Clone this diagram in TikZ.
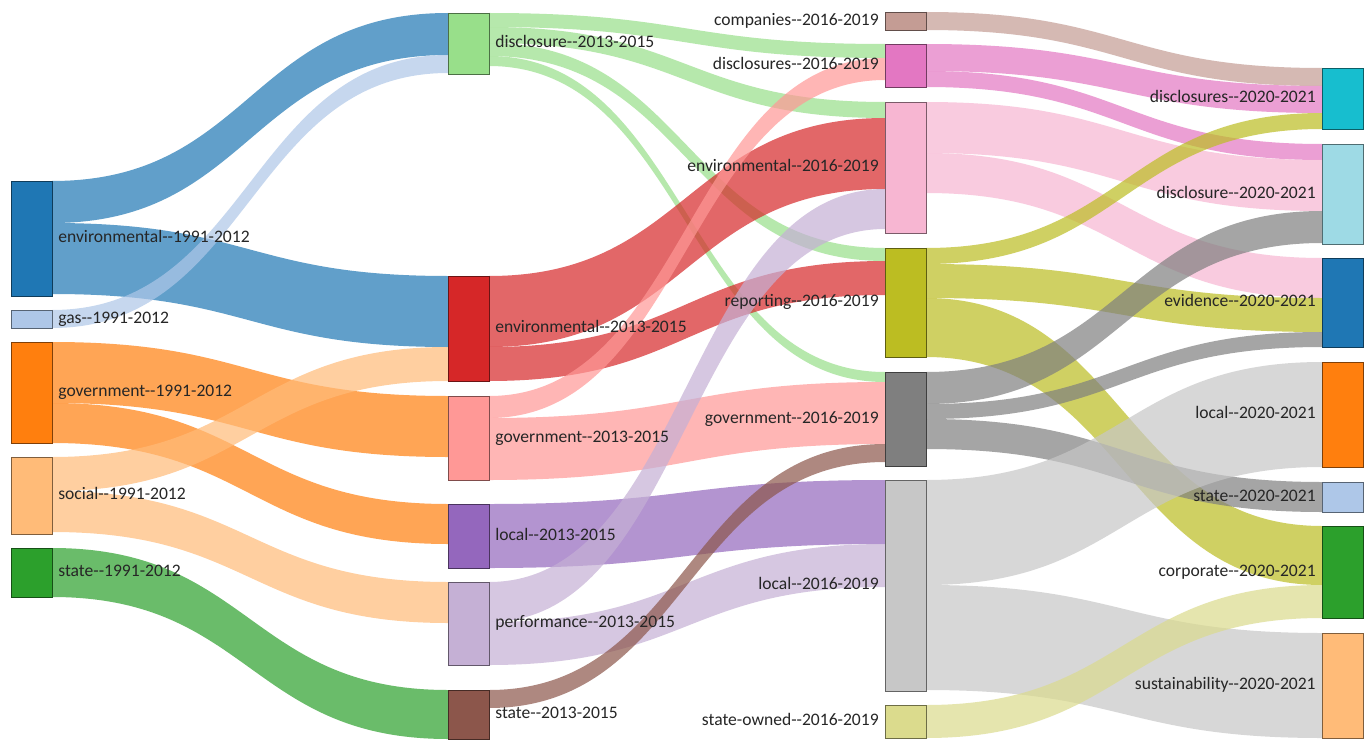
\documentclass[tikz,border=0pt]{standalone}
\usepackage{fontspec}
\setmainfont{Carlito}[Ligatures=TeXOff]
\usetikzlibrary{positioning, calc, backgrounds}

\definecolor{tblue}{HTML}{1F77B4}
\definecolor{tblueL}{HTML}{AEC7E8}
\definecolor{torange}{HTML}{FF7F0E}
\definecolor{torangeL}{HTML}{FFBB78}
\definecolor{tgreen}{HTML}{2CA02C}
\definecolor{tgreenL}{HTML}{98DF8A}
\definecolor{tred}{HTML}{D62728}
\definecolor{tredL}{HTML}{FF9896}
\definecolor{tpurple}{HTML}{9467BD}
\definecolor{tpurpleL}{HTML}{C5B0D5}
\definecolor{tbrown}{HTML}{8C564B}
\definecolor{tbrownL}{HTML}{C49C94}
\definecolor{tpink}{HTML}{E377C2}
\definecolor{tpinkL}{HTML}{F7B6D2}
\definecolor{tgray}{HTML}{7F7F7F}
\definecolor{tgrayL}{HTML}{C7C7C7}
\definecolor{tolive}{HTML}{BCBD22}
\definecolor{toliveL}{HTML}{DBDB8D}
\definecolor{tcyan}{HTML}{17BECF}
\definecolor{tcyanL}{HTML}{9EDAE5}

% band from source node (offset from its top) to target node, given thickness
\newcommand{\flow}[6]{%
  \fill[#6, fill opacity=.7]
    ($(#1.north east)+(0,#2)$) .. controls +(198,0) and +(-198,0) .. ($(#3.north west)+(0,#4)$)
    -- ++(0,#5) .. controls +(-198,0) and +(198,0) .. ($(#1.north east)+(0,#2+#5)$) -- cycle;
}

\tikzset{
  stage/.style={draw=#1!50!black, fill=#1, line width=.5pt, minimum width=.82cm, inner sep=0, outer sep=0},
  tall/.style={minimum height=#1*0.02cm},
  lab/.style={inner sep=0, text=black!85, font=\fontsize{10}{12}\selectfont, text height=.7em, text depth=.2em}
}

\begin{document}
\begin{tikzpicture}[x=0.02cm, y=-0.02cm]
    \useasboundingbox (0,0) rectangle (1368,740);

    % 1991-2012
    \node (env91) [stage=tblue, tall=115] at (31.5, 238.5) {};
    \node (gas91) [stage=tblueL, tall=18] at (31.5, 319) {};
    \node (gov91) [stage=torange, tall=101] at (31.5, 392.5) {};
    \node (soc91) [stage=torangeL, tall=77] at (31.5, 495.5) {};
    \node (sta91) [stage=tgreen, tall=49] at (31.5, 572.5) {};

    % 2013-2015
    \node (dis13) [stage=tgreenL, tall=61] at (468.5, 43.5) {};
    \node (env13) [stage=tred, tall=105] at (468.5, 328.5) {};
    \node (gov13) [stage=tredL, tall=84] at (468.5, 438) {};
    \node (loc13) [stage=tpurple, tall=64] at (468.5, 536) {};
    \node (per13) [stage=tpurpleL, tall=83] at (468.5, 623.5) {};
    \node (sta13) [stage=tbrown, tall=49] at (468.5, 714.5) {};

    % 2016-2019
    \node (com16) [stage=tbrownL, tall=18] at (905.5, 21) {};
    \node (dis16) [stage=tpink, tall=43] at (905.5, 65.5) {};
    \node (env16) [stage=tpinkL, tall=131] at (905.5, 167.5) {};
    \node (rep16) [stage=tolive, tall=109] at (905.5, 302.5) {};
    \node (gov16) [stage=tgray, tall=94] at (905.5, 419) {};
    \node (loc16) [stage=tgrayL, tall=211] at (905.5, 585.5) {};
    \node (sow16) [stage=toliveL, tall=33] at (905.5, 721.5) {};

    % 2020-2021
    \node (dis20) [stage=tcyan, tall=61] at (1342.5, 98.5) {};
    \node (disc20) [stage=tcyanL, tall=100] at (1342.5, 194) {};
    \node (evi20) [stage=tblue, tall=89] at (1342.5, 302.5) {};
    \node (loc20) [stage=torange, tall=105] at (1342.5, 414.5) {};
    \node (sta20) [stage=tblueL, tall=30] at (1342.5, 497) {};
    \node (cor20) [stage=tgreen, tall=92] at (1342.5, 572) {};
    \node (sus20) [stage=torangeL, tall=105] at (1342.5, 685.5) {};

    \begin{scope}[on background layer]
        \fill[white] (0,0) rectangle (1368,740);
        \flow{env91}{0}{dis13}{0}{42}{tblue}
        \flow{env91}{42}{env13}{0}{71}{tblue}
        \flow{gas91}{0}{dis13}{42}{18}{tblueL}
        \flow{gov91}{0}{gov13}{0}{61}{torange}
        \flow{gov91}{61}{loc13}{0}{40}{torange}
        \flow{soc91}{0}{env13}{71}{34}{torangeL}
        \flow{soc91}{34}{per13}{0}{41}{torangeL}
        \flow{sta91}{0}{sta13}{0}{49}{tgreen}

        \flow{dis13}{0}{dis16}{0}{14}{tgreenL}
        \flow{dis13}{14}{env16}{0}{16}{tgreenL}
        \flow{dis13}{30}{rep16}{0}{13}{tgreenL}
        \flow{dis13}{43}{gov16}{0}{10}{tgreenL}
        \flow{env13}{0}{env16}{16}{71}{tred}
        \flow{env13}{71}{rep16}{13}{34}{tred}
        \flow{gov13}{0}{dis16}{14}{22}{tredL}
        \flow{gov13}{22}{gov16}{10}{62}{tredL}
        \flow{loc13}{0}{loc16}{0}{64}{tpurple}
        \flow{per13}{0}{env16}{87}{40}{tpurpleL}
        \flow{per13}{40}{loc16}{64}{43}{tpurpleL}
        \flow{sta13}{0}{gov16}{72}{18}{tbrown}

        \flow{com16}{0}{dis20}{0}{18}{tbrownL}
        \flow{dis16}{0}{dis20}{18}{27}{tpink}
        \flow{dis16}{27}{disc20}{0}{16}{tpink}
        \flow{env16}{0}{disc20}{16}{51}{tpinkL}
        \flow{env16}{51}{evi20}{0}{40}{tpinkL}
        \flow{rep16}{0}{dis20}{45}{16}{tolive}
        \flow{rep16}{16}{evi20}{40}{34}{tolive}
        \flow{rep16}{50}{cor20}{0}{59}{tolive}
        \flow{gov16}{0}{disc20}{67}{32}{tgray}
        \flow{gov16}{32}{evi20}{74}{15}{tgray}
        \flow{gov16}{47}{sta20}{0}{30}{tgray}
        \flow{loc16}{0}{loc20}{0}{105}{tgrayL}
        \flow{loc16}{105}{sus20}{0}{105}{tgrayL}
        \flow{sow16}{0}{cor20}{59}{33}{toliveL}
    \end{scope}

    \node (lenv91) [lab, right=1.2mm of env91] {environmental--1991-2012};
    \node (lgas91) [lab, right=1.2mm of gas91] {gas--1991-2012};
    \node (lgov91) [lab, right=1.2mm of gov91] {government--1991-2012};
    \node (lsoc91) [lab, right=1.2mm of soc91] {social--1991-2012};
    \node (lsta91) [lab, right=1.2mm of sta91] {state--1991-2012};

    \node (ldis13) [lab, right=1.2mm of dis13] {disclosure--2013-2015};
    \node (lenv13) [lab, right=1.2mm of env13] {environmental--2013-2015};
    \node (lgov13) [lab, right=1.2mm of gov13] {government--2013-2015};
    \node (lloc13) [lab, right=1.2mm of loc13] {local--2013-2015};
    \node (lper13) [lab, right=1.2mm of per13] {performance--2013-2015};
    \node (lsta13) [lab, right=1.2mm of sta13] {state--2013-2015};

    \node (lcom16) [lab, left=1.2mm of com16] {companies--2016-2019};
    \node (ldis16) [lab, left=1.2mm of dis16] {disclosures--2016-2019};
    \node (lenv16) [lab, left=1.2mm of env16] {environmental--2016-2019};
    \node (lrep16) [lab, left=1.2mm of rep16] {reporting--2016-2019};
    \node (lgov16) [lab, left=1.2mm of gov16] {government--2016-2019};
    \node (lloc16) [lab, left=1.2mm of loc16] {local--2016-2019};
    \node (lsow16) [lab, left=1.2mm of sow16] {state-owned--2016-2019};

    \node (ldis20) [lab, left=1.2mm of dis20] {disclosures--2020-2021};
    \node (ldisc20) [lab, left=1.2mm of disc20] {disclosure--2020-2021};
    \node (levi20) [lab, left=1.2mm of evi20] {evidence--2020-2021};
    \node (lloc20) [lab, left=1.2mm of loc20] {local--2020-2021};
    \node (lsta20) [lab, left=1.2mm of sta20] {state--2020-2021};
    \node (lcor20) [lab, left=1.2mm of cor20] {corporate--2020-2021};
    \node (lsus20) [lab, left=1.2mm of sus20] {sustainability--2020-2021};
\end{tikzpicture}
\end{document}
